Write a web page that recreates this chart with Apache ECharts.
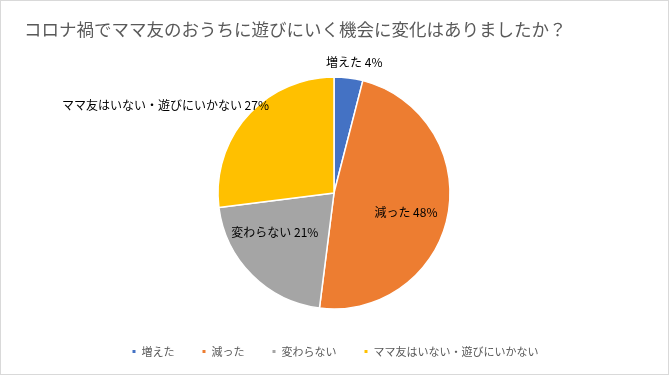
<!DOCTYPE html>
<html>
<head>
<meta charset="utf-8">
<script src="https://cdn.jsdelivr.net/npm/echarts@6/dist/echarts.min.js"></script>
<style>
  html, body { margin: 0; padding: 0; background: #fff; }
  #chart { width: 667px; height: 373px; border: 1px solid #d9d9d9; }
</style>
</head>
<body>
<div id="chart"></div>
<script>
const categories = ["増えた", "減った", "変わらない", "ママ友はいない・遊びにいかない"];
const values = [4, 48, 21, 27];
const colors = ["#4472C4", "#ED7D31", "#A5A5A5", "#FFC000"];

const chart = echarts.init(document.getElementById("chart"));
const font = "'Noto Sans CJK JP', sans-serif";

// 外側ラベルは線なし、内側ラベルは中央寄せ
const labelPos = ["outside", "inside", "inside", "outside"];
const labelOffset = [[-28, -12], [12, 8], [-16, -4], [30, -8]];

const option = {
  animation: false,
  title: {
    text: "コロナ禍でママ友のおうちに遊びにいく機会に変化はありましたか？",
    left: 18,
    top: 15,
    textStyle: { fontFamily: font, fontSize: 17.5, fontWeight: "normal", color: "#595959" },
  },
  legend: {
    bottom: 12,
    left: "center",
    icon: "rect",
    itemWidth: 5,
    itemHeight: 5,
    itemGap: 26,
    textStyle: { fontFamily: font, fontSize: 11, color: "#595959" },
    data: categories,
  },
  series: [
    {
      type: "pie",
      center: [333, 192],
      radius: 116,
      startAngle: 90,
      clockwise: true,
      itemStyle: { borderColor: "#fff", borderWidth: 1.5 },
      labelLine: { show: false, length: 4, length2: 0 },
      data: categories.map((name, i) => ({
        name: name,
        value: values[i],
        itemStyle: { color: colors[i] },
        label: {
          show: true,
          position: labelPos[i],
          offset: labelOffset[i],
          formatter: "{b} {c}%",
          fontFamily: font,
          fontSize: 12,
          color: "#000",
        },
      })),
    },
  ],
};

chart.setOption(option);
</script>
</body>
</html>
